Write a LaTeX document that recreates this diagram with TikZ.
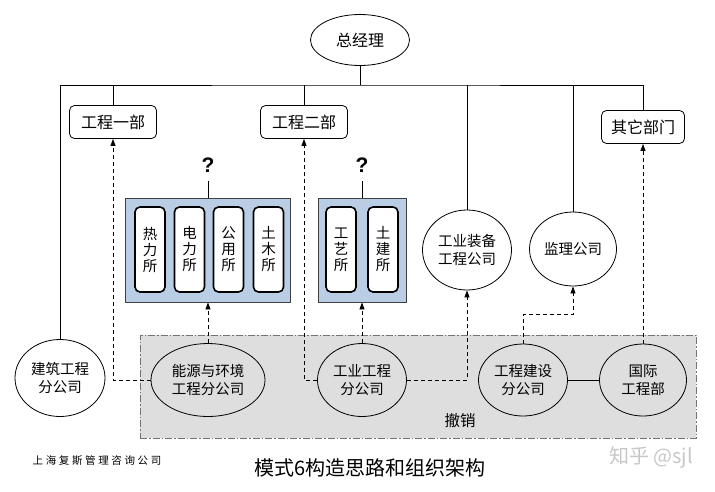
\documentclass[tikz,border=0pt]{standalone}
\usepackage{fontspec}
\usepackage{xcolor}
\usepackage{tikz}
\newfontfamily\cjk{Noto Sans CJK SC}
\newfontfamily\arial{Liberation Sans}
\usetikzlibrary{shapes,arrows,positioning,calc,arrows.meta}
\definecolor{boxblue}{RGB}{185,205,228}
\definecolor{bggray}{RGB}{222,222,222}

\begin{document}
\begin{tikzpicture}[
    x=1pt, y=-1pt,
    dept/.style={draw, rectangle, rounded corners=5pt, minimum width=87pt, minimum height=33pt, line width=0.8pt, font=\cjk\fontsize{16}{18}\selectfont},
    comp/.style={draw, ellipse, inner sep=0pt, align=center, line width=0.8pt, font=\cjk\fontsize{14.5}{18}\selectfont},
    unit/.style={draw, rectangle, rounded corners=5pt, line width=1.6pt, fill=white, minimum width=30pt, minimum height=85pt, inner sep=0pt, align=center, font=\cjk\fontsize{14.5}{16}\selectfont},
    group/.style={draw=black!75, rectangle, fill=boxblue, minimum height=104pt, line width=0.8pt},
    cancelbox/.style={draw=black!55, fill=bggray, rectangle, minimum width=556pt, minimum height=103pt, line width=0.8pt, dash pattern=on 7pt off 2pt on 1.5pt off 2pt},
    qmark/.style={font=\arial\bfseries\fontsize{21}{21}\selectfont, inner sep=0pt},
    dasharrow/.style={line width=0.8pt, dash pattern=on 4pt off 3pt, -{Triangle[length=7pt,width=5pt]}}
]
    \useasboundingbox (0,0) rectangle (715,491);

    % cancelled block
    \node [cancelbox] (cx) at (418,386.5) {};
    \node [font=\cjk\fontsize{15.5}{17}\selectfont] (cxt) at (460,421) {撤销};

    % top
    \node [comp, minimum width=99pt, minimum height=51pt, font=\cjk\fontsize{16}{18}\selectfont] (zjl) at (360,40) {总经理};
    \coordinate (bus) at (360,85);

    \node [dept] (b1) at (113,122) {工程一部};
    \node [dept] (b2) at (304,122) {工程二部};
    \node [dept, minimum width=83pt] (qt) at (643,127) {其它部门};

    \node [comp, fill=white, minimum width=89pt, minimum height=80pt] (zb) at (467,250) {工业装备\\工程公司};
    \node [comp, fill=white, minimum width=87pt, minimum height=74pt] (jl) at (573,249) {监理公司};

    % groups of institutes
    \node [group, minimum width=165pt] (k1) at (208,250) {};
    \node [group, minimum width=88pt] (k2) at (362,250) {};
    \foreach \x/\n/\t in {150/rl/{热\\力\\所}, 189.5/dl/{电\\力\\所}, 228.5/gy/{公\\用\\所}, 268.5/tm/{土\\木\\所}, 341/gs/{工\\艺\\所}, 383/tj/{土\\建\\所}} {
        \node [unit] (u\n) at (\x,249.5) {\t};
    }

    % question marks
    \draw [line width=0.8pt] (k1.north) -- ++(0,-17) coordinate (q1a);
    \node [qmark, above=8pt of q1a] (q1) {?};
    \draw [line width=0.8pt] (k2.north) -- ++(0,-17) coordinate (q2a);
    \node [qmark, above=8pt of q2a] (q2) {?};

    % companies
    \node [comp, fill=white, minimum width=90pt, minimum height=77pt] (jz) at (60,378) {建筑工程\\分公司};
    \node [comp, fill=bggray, minimum width=114pt, minimum height=73pt] (ny) at (208,380) {能源与环境\\工程分公司};
    \node [comp, fill=bggray, minimum width=89pt, minimum height=73pt] (gc) at (362,380) {工业工程\\分公司};
    \node [comp, fill=bggray, minimum width=89pt, minimum height=72pt] (js) at (523,380) {工程建设\\分公司};
    \node [comp, fill=bggray, minimum width=87pt, minimum height=72pt] (gj) at (643,380) {国际\\工程部};

    % solid lines
    \draw [line width=0.8pt] (zjl.south) -- (bus);
    \draw [line width=0.8pt] (jz.north) |- (bus) -| (qt.north);
    \foreach \n in {b1,b2,zb,jl} {
        \draw [line width=0.8pt] (\n.north |- bus) -- (\n.north);
    }
    \draw [line width=0.8pt] (js.east) -- (gj.west);

    % dashed arrows
    \draw [dasharrow] (ny.west) -| (b1.south);
    \draw [dasharrow] (ny.north) -- (k1.south);
    \draw [dasharrow] (gc.west) -| (b2.south);
    \draw [dasharrow] (gc.north) -- (k2.south);
    \draw [dasharrow] (gc.east) -| (zb.south);
    \draw [dasharrow] (js.north) -- ++(0,-29) -| (jl.south);
    \draw [dasharrow] (gj.north) -- (qt.south);

    % captions
    \node [font=\cjk\fontsize{10.5}{12}\selectfont\addfontfeature{LetterSpace=25}] (src) at (97,461) {上海复斯管理咨询公司};
    \node [font=\cjk\fontsize{20}{22}\selectfont] (title) at (370,468) {模式6构造思路和组织架构};
    \node [font=\cjk\fontsize{20}{22}\selectfont, text=black!22] (wm) at (651,458) {知乎 @sjl};
\end{tikzpicture}
\end{document}
